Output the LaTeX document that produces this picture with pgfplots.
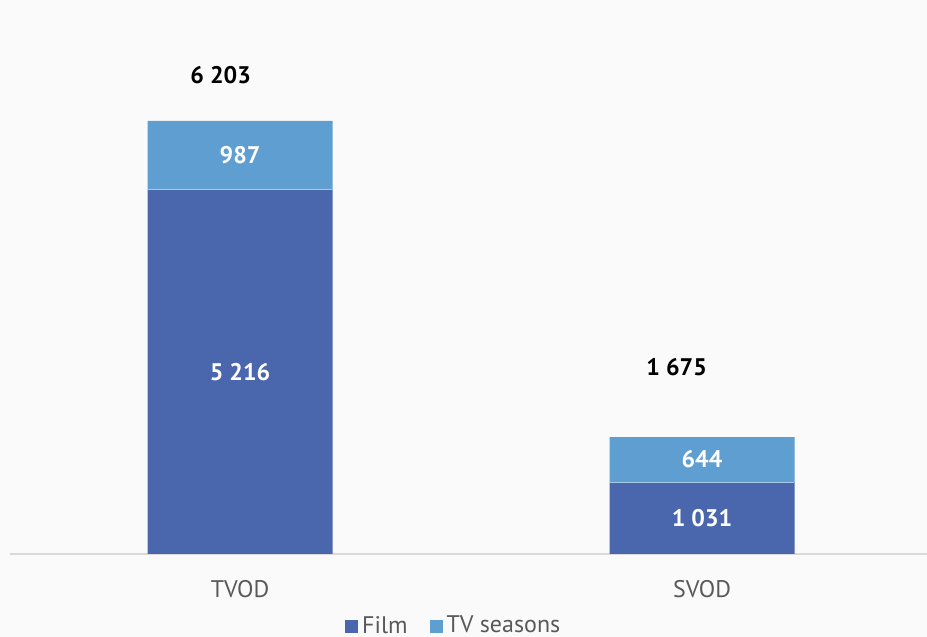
\documentclass[border=0pt]{standalone}
\usepackage{pgfplots}
\pgfplotsset{compat=1.18}
\usepackage{fontspec}
\setmainfont{PT Sans}
\definecolor{bg}{HTML}{FAFAFA}
\definecolor{film}{HTML}{4A67AE}
\definecolor{tvs}{HTML}{5F9ED1}
\definecolor{txtgray}{HTML}{595959}
\definecolor{axgray}{HTML}{D9D9D9}
\definecolor{sepline}{HTML}{A9CBE8}
\newcommand{\lblfont}{\fontsize{12}{14}\selectfont}
\tikzset{vlab/.style={font=\lblfont\bfseries}}
\begin{document}
\begin{tikzpicture}
\fill[bg] (-5pt,-41.5pt) rectangle (458.5pt,277pt);
\begin{axis}[
  at={(0,0)}, anchor=south west,
  scale only axis, width=458.5pt, height=277pt,
  ybar stacked, bar width=92.5pt,
  xmin=-0.498, xmax=1.487, ymin=0, ymax=7936,
  axis x line*=bottom, axis y line=none,
  x axis line style={draw=axgray, line width=1pt},
  xtick={0,1}, xticklabels={TVOD,SVOD},
  major tick length=0pt,
  xticklabel style={font=\lblfont, text=txtgray, yshift=-9.5pt},
  legend columns=2,
  legend style={at={(0.485,-0.13)}, anchor=center, draw=none, fill=none,
    font=\lblfont, text=txtgray,
    /tikz/every even column/.append style={column sep=9pt}},
  legend image code/.code={\fill[#1] (-1.5pt,-3.25pt) rectangle (5pt,3.25pt);},
  clip=false,
]
\addplot[fill=film, draw=none] coordinates {(0,5216) (1,1031)};
\addlegendentry{Film}
\addplot[fill=tvs, draw=none] coordinates {(0,987) (1,644)};
\addlegendentry{TV seasons}
\coordinate (s1a) at (axis cs:-0.2,5216);
\coordinate (s1b) at (axis cs:0.2,5216);
\coordinate (s2a) at (axis cs:0.8,1031);
\coordinate (s2b) at (axis cs:1.2,1031);
\coordinate (l1) at (axis cs:0,2608);
\coordinate (l2) at (axis cs:0,5709.5);
\coordinate (l3) at (axis cs:1,515.5);
\coordinate (l4) at (axis cs:1,1353);
\coordinate (t1) at (axis cs:-0.042,6862);
\coordinate (t2) at (axis cs:0.945,2679);
\end{axis}
\draw[sepline, line width=0.5pt] (s1a) -- (s1b);
\draw[sepline, line width=0.5pt] (s2a) -- (s2b);
\node[vlab, white] at (l1) {5 216};
\node[vlab, white] at (l2) {987};
\node[vlab, white] at (l3) {1 031};
\node[vlab, white] at (l4) {644};
\node[vlab, black] at (t1) {6 203};
\node[vlab, black] at (t2) {1 675};
\pgfresetboundingbox
\path (-5pt,-41.5pt) rectangle (458.5pt,277pt);
\end{tikzpicture}
\end{document}
